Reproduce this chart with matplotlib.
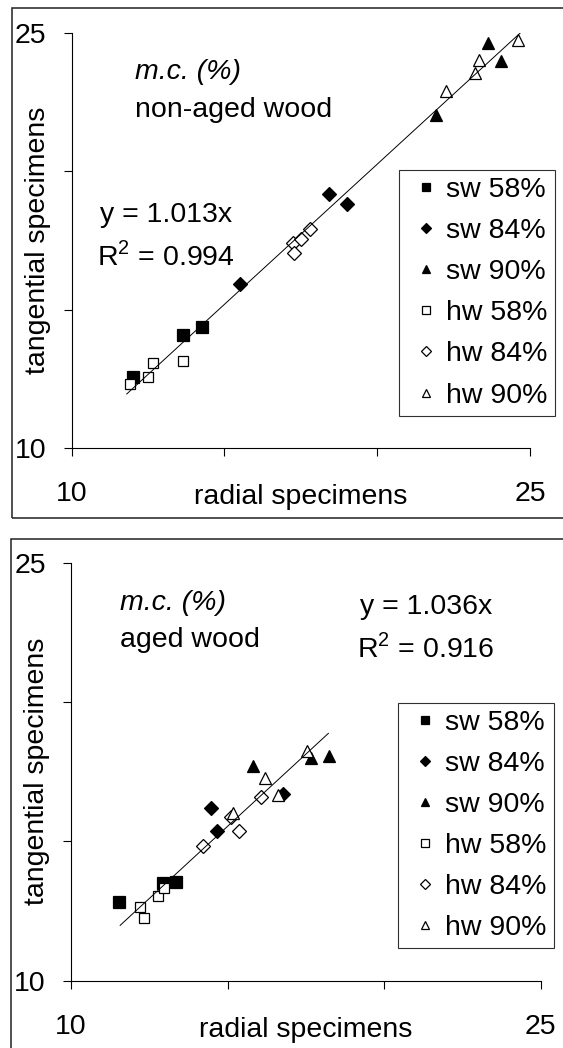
import matplotlib
matplotlib.use("Agg")
import matplotlib.pyplot as plt
from matplotlib.patches import Rectangle

plt.rcParams['font.family'] = ['Liberation Sans', 'DejaVu Sans']

# --- data (radial, tangential) ---
labels = ['sw 58%', 'sw 84%', 'sw 90%', 'hw 58%', 'hw 84%', 'hw 90%']

# non-aged wood
top_x = [
    [11.99, 13.65, 14.28],
    [15.5, 18.42, 19.0],
    [21.93, 23.62, 24.05],
    [11.91, 12.51, 12.65, 13.65],
    [17.24, 17.26, 17.52, 17.79],
    [22.25, 23.21, 23.34, 24.6],
]
top_y = [
    [12.57, 14.08, 14.36],
    [15.92, 19.17, 18.81],
    [22.02, 24.63, 23.98],
    [12.33, 12.55, 13.08, 13.14],
    [17.41, 17.05, 17.57, 17.91],
    [22.9, 23.55, 24.03, 24.75],
]
top_slope = 1.013
top_r2 = 0.994
top_fit_x = [11.8, 24.7]

# aged wood
bot_x = [
    [11.54, 12.93, 13.35],
    [14.46, 14.65, 16.78],
    [15.8, 17.66, 18.25],
    [12.2, 12.33, 12.77, 12.97],
    [14.21, 15.10, 15.38, 16.07],
    [15.17, 16.2, 16.62, 17.53],
]
bot_y = [
    [12.84, 13.49, 13.55],
    [16.19, 15.38, 16.70],
    [17.70, 17.98, 18.06],
    [12.63, 12.26, 13.04, 13.31],
    [14.83, 15.86, 15.38, 16.60],
    [16.03, 17.26, 16.66, 18.25],
]
bot_slope = 1.036
bot_r2 = 0.916
bot_fit_x = [11.57, 18.22]

# marker styles per series
markers = ['s', 'D', '^', 's', 'D', '^']
msizes = [8.5, 7, 9, 7.8, 7, 9]
faces = ['black', 'black', 'black', 'white', 'white', 'white']

FS = 20.5

fig = plt.figure(figsize=(5.63, 10.48), dpi=100)

# outer frames around each panel
fig.patches.append(Rectangle((0.0208, 0.5057), 1.2, 0.4867, transform=fig.transFigure,
                             fill=False, edgecolor='#202020', linewidth=1.1))
fig.patches.append(Rectangle((0.0195, -0.1), 1.2, 0.5857, transform=fig.transFigure,
                             fill=False, edgecolor='#202020', linewidth=1.1))

ax1 = fig.add_axes([0.1274, 0.5725, 0.814, 0.396])
ax2 = fig.add_axes([0.1261, 0.0642, 0.8343, 0.3989])


def draw(ax, xs, ys, slope, r2, fit_x, title, tx, eqx, eqy):
    for i in range(len(labels)):
        ax.plot(xs[i], ys[i], linestyle='none', marker=markers[i], ms=msizes[i],
                mfc=faces[i], mec='black', mew=0.9, label=labels[i], clip_on=False, zorder=3)
    ax.plot(fit_x, [slope * v for v in fit_x], color='black', lw=0.7, zorder=4)

    ax.set_xlim(10, 25)
    ax.set_ylim(10, 25)
    ax.set_xticks([10, 15, 20, 25])
    ax.set_xticklabels(['10', '', '', '25'])
    ax.set_yticks([10, 15, 20, 25])
    ax.set_yticklabels(['10', '', '', '25'])
    ax.tick_params(direction='out', length=6, width=0.8, labelsize=FS, colors='black')
    ax.tick_params(axis='x', pad=18)
    ax.tick_params(axis='y', pad=12)
    for s in ['top', 'right']:
        ax.spines[s].set_visible(False)
    for s in ['left', 'bottom']:
        ax.spines[s].set_linewidth(0.8)

    ax.set_xlabel('radial specimens', fontsize=FS)
    ax.xaxis.set_label_coords(0.5, -0.117)
    ax.xaxis.label.set_va('center')
    ax.set_ylabel('tangential specimens', fontsize=FS)
    ax.yaxis.set_label_coords(-0.073, 0.5)
    ax.yaxis.label.set_va('center')

    ax.text(tx[0], tx[1], 'm.c. (%)', style='italic', fontsize=FS,
            transform=ax.transAxes, va='baseline')
    ax.text(tx[0], tx[2], title, fontsize=FS, transform=ax.transAxes, va='baseline')
    ax.text(eqx, eqy[0], 'y = %.3fx' % slope, fontsize=FS, ha='center',
            transform=ax.transAxes, va='baseline')
    ax.text(eqx, eqy[1], 'R$^\\mathregular{2}$ = %.3f' % r2, fontsize=FS, ha='center',
            transform=ax.transAxes, va='baseline')


draw(ax1, top_x, top_y, top_slope, top_r2, top_fit_x, 'non-aged wood',
     (0.138, 0.888, 0.798), 0.206, (0.545, 0.441))
draw(ax2, bot_x, bot_y, bot_slope, bot_r2, bot_fit_x, 'aged wood',
     (0.104, 0.887, 0.799), 0.755, (0.877, 0.774))

for ax, anchor in [(ax1, (0.715, 0.670)), (ax2, (0.697, 0.665))]:
    leg = ax.legend(loc='upper left', bbox_to_anchor=anchor, borderaxespad=0,
                    fontsize=FS, numpoints=1, markerscale=0.68, fancybox=False,
                    framealpha=1, edgecolor='#303030', borderpad=0.25,
                    handlelength=1.4, handletextpad=0.0, labelspacing=0.53)
    leg.get_frame().set_linewidth(0.8)

fig.savefig('out.png', dpi=100)
